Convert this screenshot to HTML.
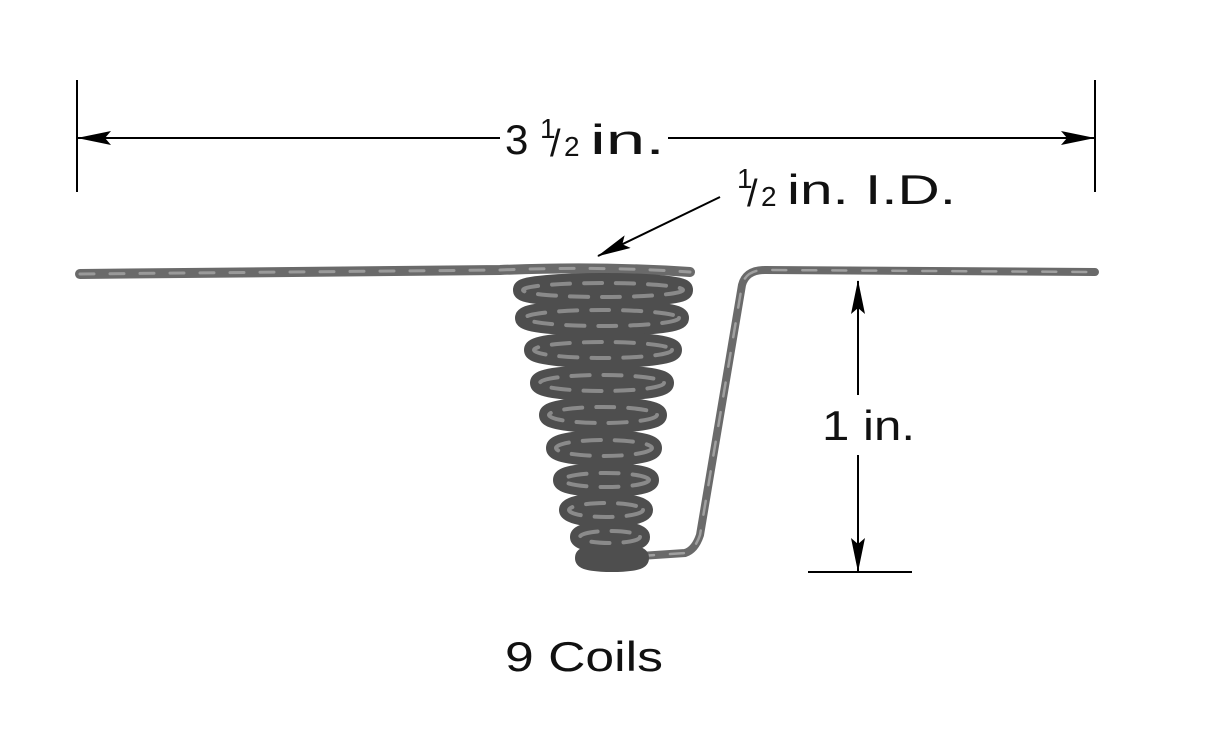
<!DOCTYPE html>
<html><head><meta charset="utf-8"><style>
html,body{margin:0;padding:0;background:#fff;}
svg{display:block}
text{font-family:"Liberation Sans",sans-serif;fill:#111}
</style></head><body>
<svg width="1218" height="750" viewBox="0 0 1218 750" xmlns="http://www.w3.org/2000/svg">
<defs>
<marker id="a" markerWidth="34" markerHeight="14" refX="33" refY="7" orient="auto" markerUnits="userSpaceOnUse">
<path d="M0,0 L34,7 L0,14 L6,7 Z" fill="#000"/></marker>
</defs>
<line x1="77" y1="80" x2="77" y2="192" stroke="#000" stroke-width="2"/>
<line x1="1095" y1="80" x2="1095" y2="192" stroke="#000" stroke-width="2"/>
<line x1="500" y1="138" x2="78" y2="138" stroke="#000" stroke-width="2" marker-end="url(#a)"/>
<line x1="668" y1="138" x2="1094" y2="138" stroke="#000" stroke-width="2" marker-end="url(#a)"/>
<text x="505" y="154" font-size="42">3</text>
<text x="540" y="138" font-size="28">1</text>
<text x="550" y="156" font-size="38">/</text>
<text x="564" y="156" font-size="28">2</text>
<text x="590" y="154" font-size="42" textLength="75" lengthAdjust="spacingAndGlyphs">in.</text>
<text x="737" y="188" font-size="28">1</text>
<text x="747" y="206" font-size="38">/</text>
<text x="761" y="206" font-size="28">2</text>
<text x="787" y="204" font-size="42" textLength="169" lengthAdjust="spacingAndGlyphs">in. I.D.</text>
<line x1="720" y1="197" x2="598" y2="256" stroke="#000" stroke-width="2" marker-end="url(#a)"/>
<line x1="858" y1="395" x2="858" y2="281" stroke="#000" stroke-width="2" marker-end="url(#a)"/>
<line x1="858" y1="455" x2="858" y2="571" stroke="#000" stroke-width="2" marker-end="url(#a)"/>
<line x1="808" y1="572" x2="912" y2="572" stroke="#000" stroke-width="2"/>
<text x="822" y="440" font-size="42" textLength="93" lengthAdjust="spacingAndGlyphs">1 in.</text>
<text x="505" y="671" font-size="42" textLength="158" lengthAdjust="spacingAndGlyphs">9 Coils</text>
<g fill="none" stroke-linecap="round">
<path d="M80,274 L500,270 Q600,266 690,272" stroke="#6a6a6a" stroke-width="10"/>
<path d="M80,274 L500,270 Q600,266 690,272" stroke="#9a9a9a" stroke-width="3" stroke-dasharray="14 16"/>
<path d="M640,556 L685,553 Q695,550 700,535 L742,285 Q746,270 765,270 L1095,272" stroke="#6a6a6a" stroke-width="8"/>
<path d="M640,556 L685,553 Q695,550 700,535 L742,285 Q746,270 765,270 L1095,272" stroke="#a0a0a0" stroke-width="2.5" stroke-dasharray="14 16"/>
<g stroke="#4e4e4e" stroke-width="20">
<ellipse cx="603" cy="290" rx="80" ry="7"/>
<ellipse cx="602" cy="318" rx="77" ry="8"/>
<ellipse cx="603" cy="350" rx="69" ry="8"/>
<ellipse cx="602" cy="383" rx="62" ry="8"/>
<ellipse cx="603" cy="415" rx="54" ry="8"/>
<ellipse cx="604" cy="448" rx="48" ry="8"/>
<ellipse cx="606" cy="480" rx="43" ry="7"/>
<ellipse cx="606" cy="510" rx="37" ry="7"/>
<ellipse cx="610" cy="537" rx="30" ry="6"/>
<ellipse cx="612" cy="558" rx="27" ry="4"/>
</g>
<g stroke="#8a8a8a" stroke-width="4" stroke-dasharray="18 14">
<ellipse cx="603" cy="290" rx="80" ry="7"/>
<ellipse cx="602" cy="318" rx="77" ry="8"/>
<ellipse cx="603" cy="350" rx="69" ry="8"/>
<ellipse cx="602" cy="383" rx="62" ry="8"/>
<ellipse cx="603" cy="415" rx="54" ry="8"/>
<ellipse cx="604" cy="448" rx="48" ry="8"/>
<ellipse cx="606" cy="480" rx="43" ry="7"/>
<ellipse cx="606" cy="510" rx="37" ry="7"/>
<ellipse cx="610" cy="537" rx="30" ry="6"/>
</g>
</g>
</svg>
</body></html>
